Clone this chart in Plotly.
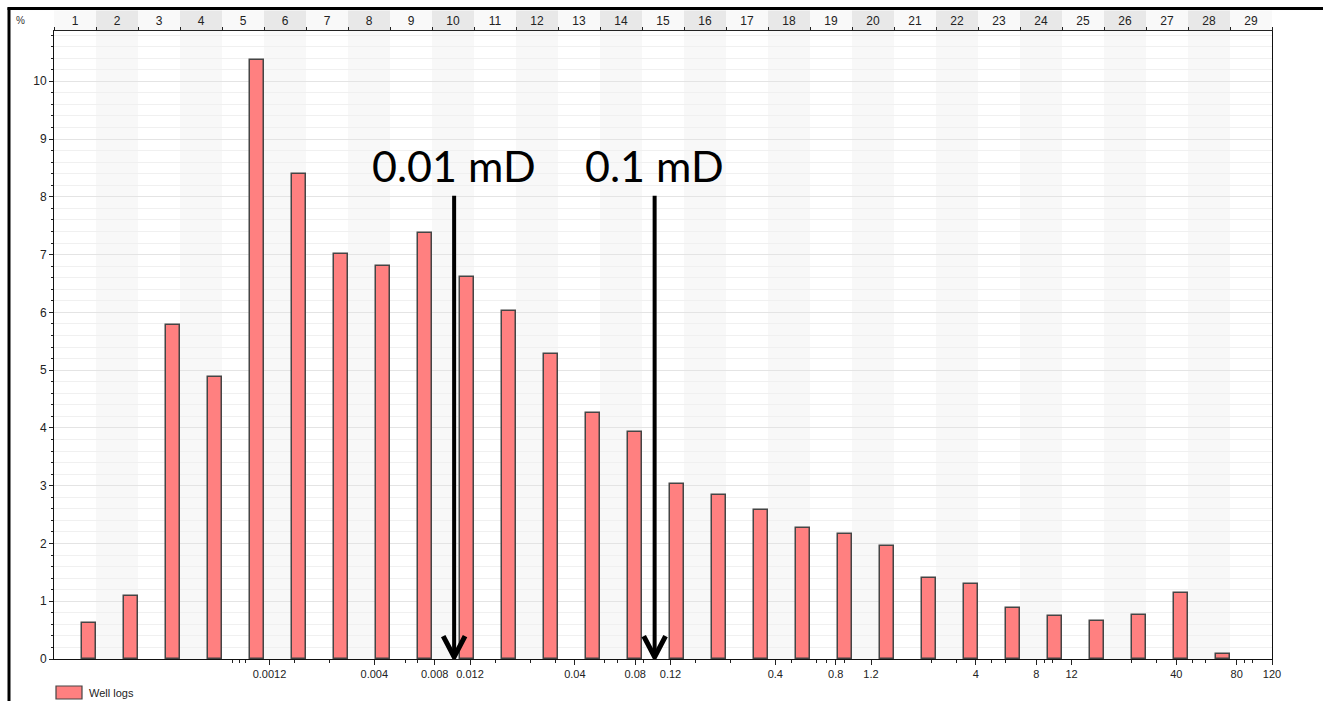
import numpy as np
import plotly.graph_objects as go

# Permeability classes (bins) and share of well-log samples in each, %
bins = list(range(1, 30))
bin_labels = [str(b) for b in bins]
share_pct = [0.62, 1.09, 5.78, 4.88, 10.36, 8.39, 7.01, 6.80, 7.37, 6.61,
             6.02, 5.28, 4.26, 3.93, 3.03, 2.84, 2.58, 2.27, 2.16, 1.96,
             1.40, 1.30, 0.88, 0.74, 0.66, 0.76, 1.14, 0.09, 0.0]

# Permeability scale, mD (log)
perm_ticks = [0.0012, 0.004, 0.008, 0.012, 0.04, 0.08, 0.12, 0.4, 0.8, 1.2,
              4, 8, 12, 40, 80, 120]
perm_tick_text = ["0.0012", "0.004", "0.008", "0.012", "0.04", "0.08", "0.12",
                  "0.4", "0.8", "1.2", "4", "8", "12", "40", "80", "120"]
perm_minor = [0.00078, 0.00085, 0.00091, 0.0016, 0.0024, 0.0057, 0.0066,
              0.016, 0.024, 0.032, 0.056, 0.065, 0.088, 0.16, 0.24, 0.48,
              0.64, 0.72, 0.88, 2.4, 3.2, 4.8, 5.6, 8.8, 9.6, 24, 32, 48,
              56, 88, 96]
perm_min, perm_max = 0.000101, 120

pct_ticks = list(range(0, 11))

# Reference permeability cut-offs
cutoff_perm = [0.01, 0.1]
cutoff_text = ["0.01 mD", "0.1 mD"]

series_name = "Well logs"

# ---- layout geometry -------------------------------------------------------
W, H = 1323, 701
PL, PR, PT, PB = 54, 1272, 31, 659
Y_MAX = 10.87
LOG_MIN, LOG_MAX = np.log10(perm_min), np.log10(perm_max)
n_bins = len(bins)


def px_x(px):
    return (px - PL) / (PR - PL)


def px_y(py):
    return (PB - py) / (PB - PT)


def perm_to_bin_axis(v):
    # position of a permeability value on the linear bin axis
    return 0.5 + (np.log10(v) - LOG_MIN) / (LOG_MAX - LOG_MIN) * n_bins


tick_font = dict(family="Liberation Sans, Arial, sans-serif", size=12, color="#222222")
small_font = dict(family="Liberation Sans, Arial, sans-serif", size=11, color="#222222")

fig = go.Figure()

# empty classes get no outline so nothing is drawn for them
outline_w = [1.5 if v > 0 else 0 for v in share_pct]

fig.add_trace(go.Bar(
    x=bins, y=share_pct, name=series_name,
    offset=0.17, width=0.32,
    marker=dict(color="#FF8080", line=dict(color="#454545", width=outline_w)),
    showlegend=False, hoverinfo="x+y",
))

# carrier trace so the permeability axis is laid out
fig.add_trace(go.Scatter(
    x=perm_ticks, y=[0] * len(perm_ticks), xaxis="x2", yaxis="y",
    mode="markers", marker=dict(size=1, opacity=0),
    showlegend=False, hoverinfo="skip",
))

shapes = []
# alternating column shading in the plot area
for b in bins:
    if b % 2 == 0:
        shapes.append(dict(type="rect", xref="x", yref="paper",
                           x0=b - 0.5, x1=b + 0.5, y0=0, y1=1,
                           fillcolor="#f8f8f8", line=dict(width=0), layer="below"))
# header strip above the plot
for b in bins:
    shapes.append(dict(type="rect", xref="paper", yref="paper",
                       x0=(b - 1) / n_bins, x1=b / n_bins, y0=1, y1=px_y(10.5),
                       fillcolor="#e8e8e8" if b % 2 == 0 else "#f9f9f9",
                       line=dict(width=0), layer="below"))
# frame lines
shapes.append(dict(type="line", xref="paper", yref="paper",
                   x0=px_x(7.5), x1=px_x(W), y0=px_y(8.5), y1=px_y(8.5),
                   line=dict(color="black", width=3)))
shapes.append(dict(type="line", xref="paper", yref="paper",
                   x0=px_x(9), x1=px_x(9), y0=px_y(7.5), y1=px_y(H),
                   line=dict(color="black", width=3)))
# legend swatch
shapes.append(dict(type="rect", xref="paper", yref="paper",
                   x0=px_x(56), x1=px_x(82), y0=px_y(699), y1=px_y(686),
                   fillcolor="#FF8080", line=dict(color="#454545", width=1.2)))

# cut-off arrows
arrow_top = 8.02
arrow_tip = 0.035
arm_dx, arm_dy = 0.26, 0.36
for v in cutoff_perm:
    xc = perm_to_bin_axis(v)
    shapes.append(dict(type="line", xref="x", yref="y",
                       x0=xc, x1=xc, y0=arrow_top, y1=arrow_tip + 0.05,
                       line=dict(color="black", width=4)))
    shapes.append(dict(type="path", xref="x", yref="y",
                       path=f"M {xc - arm_dx},{arrow_tip + arm_dy} L {xc},{arrow_tip} L {xc + arm_dx},{arrow_tip + arm_dy}",
                       line=dict(color="black", width=5)))

annotations = []
for v, t in zip(cutoff_perm, cutoff_text):
    annotations.append(dict(x=perm_to_bin_axis(v), y=8.55, xref="x", yref="y",
                            text=t, showarrow=False, xanchor="center", yanchor="middle",
                            font=dict(family="Lato, sans-serif", size=43, color="black")))
annotations.append(dict(x=px_x(20), y=px_y(21), xref="paper", yref="paper", text="%",
                        showarrow=False, xanchor="center", yanchor="middle",
                        font=dict(family="Liberation Sans, Arial, sans-serif", size=10, color="#333333")))
annotations.append(dict(x=px_x(87), y=px_y(693), xref="paper", yref="paper", text=series_name,
                        showarrow=False, xanchor="left", yanchor="middle", font=small_font))

fig.update_layout(
    width=W, height=H,
    margin=dict(l=PL, r=W - PR, t=PT, b=H - PB, pad=0),
    paper_bgcolor="white", plot_bgcolor="white",
    showlegend=False, bargap=0,
    xaxis=dict(
        range=[0.5, n_bins + 0.5], side="top",
        tickmode="array", tickvals=bins, ticktext=bin_labels, ticks="",
        tickfont=tick_font, showgrid=False, zeroline=False,
        showline=True, linecolor="#222222", linewidth=1,
        minor=dict(tickmode="array", tickvals=[b + 0.5 for b in [0] + bins],
                   ticks="outside", ticklen=3, tickcolor="#222222", showgrid=False),
    ),
    xaxis2=dict(
        type="log", range=[LOG_MIN, LOG_MAX], overlaying="x", side="bottom", anchor="y",
        tickmode="array", tickvals=perm_ticks, ticktext=perm_tick_text,
        ticks="outside", ticklen=5, tickcolor="#222222", tickfont=small_font,
        showgrid=False, zeroline=False,
        showline=True, linecolor="#111111", linewidth=1,
        minor=dict(tickmode="array", tickvals=perm_minor, ticks="outside",
                   ticklen=3, tickcolor="#222222", showgrid=False),
    ),
    yaxis=dict(
        range=[0, Y_MAX], tickmode="array", tickvals=pct_ticks,
        ticks="outside", ticklen=4, tickcolor="#222222", tickfont=tick_font,
        showgrid=True, gridcolor="#e4e4e4", gridwidth=1, zeroline=False,
        showline=True, mirror=True, linecolor="#111111", linewidth=1,
        minor=dict(tickmode="linear", tick0=0, dtick=0.2, ticks="outside",
                   ticklen=2, tickcolor="#222222", showgrid=True, gridcolor="#f0f0f0"),
    ),
    shapes=shapes,
    annotations=annotations,
)

fig.write_html("out.html")
